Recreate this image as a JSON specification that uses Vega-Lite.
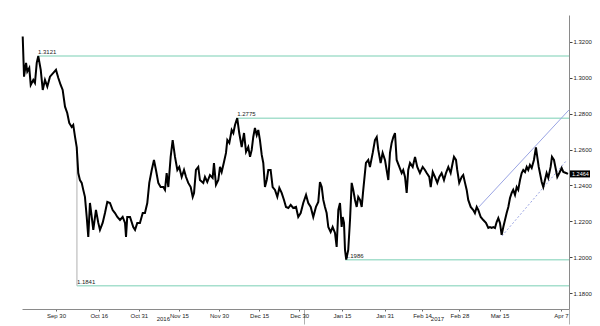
{
  "$schema": "https://vega.github.io/schema/vega-lite/v6.json",
  "width": 547,
  "height": 294,
  "autosize": {"type": "none"},
  "padding": {"left": 22, "top": 15, "right": 31, "bottom": 17},
  "background": "white",
  "config": {"view": {"stroke": null}, "font": "Liberation Sans"},
  "datasets": {
    "prices": [
      {"t":"2016-09-17T13:00","p":1.3230},{"t":"2016-09-18T01:00","p":1.3006},{"t":"2016-09-18T19:00","p":1.3083},{"t":"2016-09-19T06:00","p":1.3034},{"t":"2016-09-20T00:00","p":1.3055},{"t":"2016-09-20T13:00","p":1.2960},{"t":"2016-09-21T12:00","p":1.2988},{"t":"2016-09-22T03:00","p":1.2971},{"t":"2016-09-22T19:00","p":1.3083},{"t":"2016-09-23T09:00","p":1.3121},
      {"t":"2016-09-24T07:00","p":1.3044},{"t":"2016-09-25T01:00","p":1.2932},{"t":"2016-09-25T21:00","p":1.2988},{"t":"2016-09-26T18:00","p":1.2951},{"t":"2016-09-27T18:00","p":1.3006},{"t":"2016-09-29T00:00","p":1.3027},{"t":"2016-09-30T00:00","p":1.3044},{"t":"2016-09-30T21:00","p":1.2999},{"t":"2016-10-01T18:00","p":1.2960},{"t":"2016-10-02T12:00","p":1.2932},
      {"t":"2016-10-03T09:00","p":1.2839},{"t":"2016-10-04T05:00","p":1.2804},{"t":"2016-10-04T23:00","p":1.2748},{"t":"2016-10-05T21:00","p":1.2726},{"t":"2016-10-06T11:00","p":1.2737},{"t":"2016-10-07T03:00","p":1.2670},{"t":"2016-10-07T18:00","p":1.2614},{"t":"2016-10-08T08:00","p":1.2469},{"t":"2016-10-08T23:00","p":1.2430},{"t":"2016-10-09T15:00","p":1.2414},
      {"t":"2016-10-10T05:00","p":1.2375},{"t":"2016-10-10T20:00","p":1.2336},{"t":"2016-10-11T12:00","p":1.2224},{"t":"2016-10-12T02:00","p":1.2113},{"t":"2016-10-12T17:00","p":1.2302},{"t":"2016-10-13T09:00","p":1.2224},{"t":"2016-10-13T23:00","p":1.2152},{"t":"2016-10-14T23:00","p":1.2263},{"t":"2016-10-15T20:00","p":1.2191},{"t":"2016-10-16T11:00","p":1.2152},
      {"t":"2016-10-17T11:00","p":1.2191},{"t":"2016-10-18T08:00","p":1.2246},{"t":"2016-10-19T05:00","p":1.2308},{"t":"2016-10-20T05:00","p":1.2302},{"t":"2016-10-21T05:00","p":1.2263},{"t":"2016-10-22T02:00","p":1.2246},{"t":"2016-10-22T23:00","p":1.2224},{"t":"2016-10-23T23:00","p":1.2207},{"t":"2016-10-24T23:00","p":1.2224},{"t":"2016-10-25T20:00","p":1.2191},
      {"t":"2016-10-26T05:00","p":1.2113},{"t":"2016-10-26T16:00","p":1.2224},{"t":"2016-10-27T17:00","p":1.2224},{"t":"2016-10-28T22:00","p":1.2168},{"t":"2016-10-29T14:00","p":1.2152},{"t":"2016-10-30T10:00","p":1.2191},{"t":"2016-10-31T10:00","p":1.2191},{"t":"2016-11-01T11:00","p":1.2246},{"t":"2016-11-02T07:00","p":1.2246},{"t":"2016-11-03T04:00","p":1.2302},
      {"t":"2016-11-03T22:00","p":1.2414},{"t":"2016-11-04T20:00","p":1.2486},{"t":"2016-11-05T16:00","p":1.2542},{"t":"2016-11-06T10:00","p":1.2486},{"t":"2016-11-07T07:00","p":1.2414},{"t":"2016-11-08T04:00","p":1.2391},{"t":"2016-11-09T04:00","p":1.2391},{"t":"2016-11-09T19:00","p":1.2375},{"t":"2016-11-10T10:00","p":1.2469},{"t":"2016-11-11T01:00","p":1.2391},
      {"t":"2016-11-11T22:00","p":1.2559},{"t":"2016-11-12T16:00","p":1.2653},{"t":"2016-11-13T13:00","p":1.2559},{"t":"2016-11-14T10:00","p":1.2486},{"t":"2016-11-15T03:00","p":1.2503},{"t":"2016-11-16T01:00","p":1.2447},{"t":"2016-11-16T22:00","p":1.2486},{"t":"2016-11-17T16:00","p":1.2447},{"t":"2016-11-18T12:00","p":1.2414},{"t":"2016-11-19T10:00","p":1.2391},
      {"t":"2016-11-20T04:00","p":1.2336},{"t":"2016-11-20T16:00","p":1.2358},{"t":"2016-11-21T09:00","p":1.2486},{"t":"2016-11-22T06:00","p":1.2503},{"t":"2016-11-22T21:00","p":1.2430},{"t":"2016-11-24T03:00","p":1.2414},{"t":"2016-11-24T18:00","p":1.2447},{"t":"2016-11-25T15:00","p":1.2419},{"t":"2016-11-26T15:00","p":1.2458},{"t":"2016-11-27T15:00","p":1.2442},
      {"t":"2016-11-28T03:00","p":1.2525},{"t":"2016-11-28T21:00","p":1.2403},{"t":"2016-11-29T18:00","p":1.2430},{"t":"2016-11-30T09:00","p":1.2503},{"t":"2016-12-01T00:00","p":1.2475},{"t":"2016-12-01T21:00","p":1.2531},{"t":"2016-12-02T15:00","p":1.2581},{"t":"2016-12-03T03:00","p":1.2653},{"t":"2016-12-03T21:00","p":1.2637},{"t":"2016-12-04T18:00","p":1.2709},
      {"t":"2016-12-05T09:00","p":1.2692},{"t":"2016-12-06T00:00","p":1.2737},{"t":"2016-12-06T20:00","p":1.2775},{"t":"2016-12-07T14:00","p":1.2692},{"t":"2016-12-08T12:00","p":1.2614},{"t":"2016-12-09T09:00","p":1.2692},{"t":"2016-12-10T03:00","p":1.2587},{"t":"2016-12-10T23:00","p":1.2614},{"t":"2016-12-11T15:00","p":1.2559},{"t":"2016-12-12T06:00","p":1.2598},
      {"t":"2016-12-12T20:00","p":1.2670},{"t":"2016-12-13T11:00","p":1.2720},{"t":"2016-12-14T03:00","p":1.2681},{"t":"2016-12-14T17:00","p":1.2709},{"t":"2016-12-15T08:00","p":1.2653},{"t":"2016-12-16T00:00","p":1.2570},{"t":"2016-12-16T14:00","p":1.2525},{"t":"2016-12-17T05:00","p":1.2391},{"t":"2016-12-17T21:00","p":1.2430},{"t":"2016-12-18T11:00","p":1.2486},
      {"t":"2016-12-19T08:00","p":1.2486},{"t":"2016-12-20T02:00","p":1.2391},{"t":"2016-12-20T23:00","p":1.2375},{"t":"2016-12-21T20:00","p":1.2336},{"t":"2016-12-22T14:00","p":1.2386},{"t":"2016-12-23T11:00","p":1.2358},{"t":"2016-12-24T08:00","p":1.2319},{"t":"2016-12-25T02:00","p":1.2280},{"t":"2016-12-25T23:00","p":1.2274},{"t":"2016-12-26T20:00","p":1.2291},
      {"t":"2016-12-27T19:00","p":1.2274},{"t":"2016-12-28T20:00","p":1.2280},{"t":"2016-12-29T16:00","p":1.2224},{"t":"2016-12-30T14:00","p":1.2246},{"t":"2016-12-31T13:00","p":1.2302},{"t":"2017-01-01T14:00","p":1.2347},{"t":"2017-01-02T10:00","p":1.2302},{"t":"2017-01-03T08:00","p":1.2280},{"t":"2017-01-04T07:00","p":1.2224},{"t":"2017-01-05T07:00","p":1.2280},
      {"t":"2017-01-06T04:00","p":1.2308},{"t":"2017-01-06T19:00","p":1.2419},{"t":"2017-01-07T11:00","p":1.2391},{"t":"2017-01-08T01:00","p":1.2319},{"t":"2017-01-08T16:00","p":1.2280},{"t":"2017-01-09T07:00","p":1.2246},{"t":"2017-01-09T22:00","p":1.2168},{"t":"2017-01-10T19:00","p":1.2140},{"t":"2017-01-11T13:00","p":1.2168},{"t":"2017-01-12T10:00","p":1.2135},
      {"t":"2017-01-13T01:00","p":1.2057},{"t":"2017-01-13T16:00","p":1.2263},{"t":"2017-01-14T07:00","p":1.2302},{"t":"2017-01-14T22:00","p":1.2168},{"t":"2017-01-15T07:00","p":1.2224},{"t":"2017-01-15T19:00","p":1.2191},{"t":"2017-01-16T04:00","p":1.2040},{"t":"2017-01-16T15:00","p":1.1986},{"t":"2017-01-17T09:00","p":1.2040},{"t":"2017-01-18T01:00","p":1.2207},
      {"t":"2017-01-18T16:00","p":1.2414},{"t":"2017-01-19T06:00","p":1.2375},{"t":"2017-01-19T22:00","p":1.2319},{"t":"2017-01-20T13:00","p":1.2280},{"t":"2017-01-21T03:00","p":1.2336},{"t":"2017-01-21T19:00","p":1.2319},{"t":"2017-01-22T10:00","p":1.2280},{"t":"2017-01-23T00:00","p":1.2375},{"t":"2017-01-24T00:00","p":1.2525},{"t":"2017-01-24T21:00","p":1.2542},
      {"t":"2017-01-25T12:00","p":1.2503},{"t":"2017-01-26T13:00","p":1.2581},{"t":"2017-01-27T09:00","p":1.2653},{"t":"2017-01-28T01:00","p":1.2670},{"t":"2017-01-28T15:00","p":1.2598},{"t":"2017-01-29T12:00","p":1.2525},{"t":"2017-01-30T06:00","p":1.2581},{"t":"2017-01-31T03:00","p":1.2542},{"t":"2017-01-31T18:00","p":1.2486},{"t":"2017-02-01T09:00","p":1.2430},
      {"t":"2017-02-02T00:00","p":1.2581},{"t":"2017-02-02T15:00","p":1.2637},{"t":"2017-02-03T06:00","p":1.2670},{"t":"2017-02-03T21:00","p":1.2692},{"t":"2017-02-04T12:00","p":1.2542},{"t":"2017-02-05T12:00","p":1.2503},{"t":"2017-02-06T09:00","p":1.2469},{"t":"2017-02-06T23:00","p":1.2486},{"t":"2017-02-07T15:00","p":1.2447},{"t":"2017-02-08T06:00","p":1.2358},
      {"t":"2017-02-08T20:00","p":1.2486},{"t":"2017-02-09T12:00","p":1.2525},{"t":"2017-02-10T12:00","p":1.2503},{"t":"2017-02-11T09:00","p":1.2559},{"t":"2017-02-12T05:00","p":1.2503},{"t":"2017-02-13T05:00","p":1.2469},{"t":"2017-02-14T06:00","p":1.2503},{"t":"2017-02-15T02:00","p":1.2486},{"t":"2017-02-15T18:00","p":1.2469},{"t":"2017-02-16T17:00","p":1.2447},
      {"t":"2017-02-17T06:00","p":1.2391},{"t":"2017-02-18T00:00","p":1.2475},{"t":"2017-02-18T20:00","p":1.2447},{"t":"2017-02-19T17:00","p":1.2414},{"t":"2017-02-20T11:00","p":1.2447},{"t":"2017-02-21T08:00","p":1.2469},{"t":"2017-02-22T05:00","p":1.2430},{"t":"2017-02-22T23:00","p":1.2469},{"t":"2017-02-23T20:00","p":1.2503},{"t":"2017-02-24T17:00","p":1.2469},
      {"t":"2017-02-25T11:00","p":1.2525},{"t":"2017-02-25T23:00","p":1.2559},{"t":"2017-02-26T17:00","p":1.2542},{"t":"2017-02-27T04:00","p":1.2486},{"t":"2017-02-27T22:00","p":1.2414},{"t":"2017-02-28T20:00","p":1.2447},{"t":"2017-03-01T10:00","p":1.2458},{"t":"2017-03-02T02:00","p":1.2414},{"t":"2017-03-02T17:00","p":1.2375},{"t":"2017-03-03T07:00","p":1.2319},
      {"t":"2017-03-04T05:00","p":1.2280},{"t":"2017-03-05T04:00","p":1.2263},{"t":"2017-03-05T19:00","p":1.2246},{"t":"2017-03-06T11:00","p":1.2280},{"t":"2017-03-07T01:00","p":1.2263},{"t":"2017-03-07T23:00","p":1.2224},{"t":"2017-03-08T22:00","p":1.2207},{"t":"2017-03-09T22:00","p":1.2191},{"t":"2017-03-10T19:00","p":1.2163},{"t":"2017-03-11T10:00","p":1.2168},
      {"t":"2017-03-12T01:00","p":1.2163},{"t":"2017-03-12T16:00","p":1.2168},{"t":"2017-03-13T07:00","p":1.2163},{"t":"2017-03-13T22:00","p":1.2196},{"t":"2017-03-14T13:00","p":1.2218},{"t":"2017-03-15T04:00","p":1.2191},{"t":"2017-03-15T19:00","p":1.2124},{"t":"2017-03-16T10:00","p":1.2168},{"t":"2017-03-17T01:00","p":1.2207},{"t":"2017-03-17T16:00","p":1.2246},
      {"t":"2017-03-18T07:00","p":1.2280},{"t":"2017-03-18T22:00","p":1.2330},{"t":"2017-03-19T13:00","p":1.2358},{"t":"2017-03-20T03:00","p":1.2375},{"t":"2017-03-20T19:00","p":1.2347},{"t":"2017-03-21T10:00","p":1.2391},{"t":"2017-03-22T00:00","p":1.2375},{"t":"2017-03-22T16:00","p":1.2430},{"t":"2017-03-23T07:00","p":1.2469},{"t":"2017-03-23T21:00","p":1.2486},
      {"t":"2017-03-24T13:00","p":1.2475},{"t":"2017-03-25T04:00","p":1.2503},{"t":"2017-03-25T18:00","p":1.2486},{"t":"2017-03-26T09:00","p":1.2514},{"t":"2017-03-27T01:00","p":1.2497},{"t":"2017-03-27T21:00","p":1.2542},{"t":"2017-03-28T15:00","p":1.2612},{"t":"2017-03-29T03:00","p":1.2559},{"t":"2017-03-29T16:00","p":1.2503},{"t":"2017-03-30T03:00","p":1.2469},
      {"t":"2017-03-30T19:00","p":1.2419},{"t":"2017-03-31T09:00","p":1.2391},{"t":"2017-04-01T00:00","p":1.2430},{"t":"2017-04-01T15:00","p":1.2469},{"t":"2017-04-02T06:00","p":1.2442},{"t":"2017-04-03T03:00","p":1.2503},{"t":"2017-04-03T15:00","p":1.2559},{"t":"2017-04-04T09:00","p":1.2542},{"t":"2017-04-05T03:00","p":1.2486},{"t":"2017-04-05T15:00","p":1.2447},
      {"t":"2017-04-06T09:00","p":1.2469},{"t":"2017-04-07T06:00","p":1.2497},{"t":"2017-04-07T21:00","p":1.2475},{"t":"2017-04-08T21:00","p":1.2469},{"t":"2017-04-09T15:00","p":1.2464}
    ],
    "levels": [
      {"start":"2016-09-23T06:00","level":1.3121,"label":"1.3121"},
      {"start":"2016-12-06T20:00","level":1.2775,"label":"1.2775"},
      {"start":"2017-01-16T06:00","level":1.1986,"label":"1.1986"},
      {"start":"2016-10-07T20:00","level":1.1841,"label":"1.1841"}
    ],
    "spike": [
      {"t":"2016-10-07T20:00","high":1.2614,"low":1.1841}
    ],
    "trends": [
      {"kind":"upper","t1":"2017-03-07T07:00","p1":1.2280,"t2":"2017-04-10T00:00","p2":1.2821},
      {"kind":"lower","t1":"2017-03-15T22:00","p1":1.2118,"t2":"2017-04-09T06:00","p2":1.2542}
    ],
    "last": [
      {"t":"2017-04-10T00:00","p":1.2464,"label":"1.2464"}
    ]
  },
  "resolve": {"axis": {"x": "independent", "y": "independent"}},
  "layer": [
    {
      "data": {"name": "levels"},
      "mark": {"type": "rule", "color": "#a6dfcd", "strokeWidth": 1.5},
      "encoding": {
        "x": {"field": "start", "type": "temporal", "axis": null},
        "x2": {"datum": {"year": 2017, "month": 4, "date": 10}},
        "y": {"field": "level", "type": "quantitative", "axis": null}
      }
    },
    {
      "data": {"name": "levels"},
      "mark": {"type": "text", "align": "left", "baseline": "bottom", "dx": 0, "dy": -1, "fontSize": 6, "color": "#222"},
      "encoding": {
        "x": {"field": "start", "type": "temporal",
          "axis": {"orient": "bottom", "values": [{"year": 2017, "month": 1, "date": 1}, {"year": 2017, "month": 4, "date": 10}], "labels": false, "domain": false, "grid": false, "ticks": true, "tickSize": 15, "tickColor": "#b0b0b0", "title": null}},
        "y": {"field": "level", "type": "quantitative", "axis": null},
        "text": {"field": "label"}
      }
    },
    {
      "data": {"name": "spike"},
      "mark": {"type": "rule", "color": "#bdbdbd", "strokeWidth": 1.2},
      "encoding": {
        "x": {"field": "t", "type": "temporal",
          "axis": {"orient": "bottom", "values": [{"year": 2016, "month": 11, "date": 9}, {"year": 2017, "month": 2, "date": 19, "hours": 14}], "format": "%Y", "domain": false, "ticks": false, "grid": false, "labelFontSize": 6, "labelColor": "#222", "labelPadding": 0, "offset": 6, "labelFlush": false, "title": null}},
        "y": {"field": "high", "type": "quantitative", "axis": null},
        "y2": {"field": "low"}
      }
    },
    {
      "data": {"name": "trends"},
      "transform": [{"filter": "datum.kind == 'upper'"}],
      "mark": {"type": "rule", "color": "#9aa4e3", "strokeWidth": 1},
      "encoding": {
        "x": {"field": "t1", "type": "temporal", "axis": null},
        "x2": {"field": "t2"},
        "y": {"field": "p1", "type": "quantitative", "axis": null},
        "y2": {"field": "p2"}
      }
    },
    {
      "data": {"name": "trends"},
      "transform": [{"filter": "datum.kind == 'lower'"}],
      "mark": {"type": "rule", "color": "#9aa4e3", "strokeWidth": 1, "strokeDash": [2, 2]},
      "encoding": {
        "x": {"field": "t1", "type": "temporal", "axis": null},
        "x2": {"field": "t2"},
        "y": {"field": "p1", "type": "quantitative", "axis": null},
        "y2": {"field": "p2"}
      }
    },
    {
      "data": {"name": "prices"},
      "mark": {"type": "line", "color": "#000000", "strokeWidth": 2, "strokeJoin": "miter"},
      "encoding": {
        "x": {"field": "t", "type": "temporal",
          "scale": {"domain": [{"year": 2016, "month": 9, "date": 17, "hours": 6, "minutes": 40}, {"year": 2017, "month": 4, "date": 10}], "nice": false},
          "axis": {"orient": "bottom", "values": [
            {"year": 2016, "month": 9, "date": 30}, {"year": 2016, "month": 10, "date": 16}, {"year": 2016, "month": 10, "date": 31},
            {"year": 2016, "month": 11, "date": 15}, {"year": 2016, "month": 11, "date": 30}, {"year": 2016, "month": 12, "date": 15},
            {"year": 2016, "month": 12, "date": 30}, {"year": 2017, "month": 1, "date": 15}, {"year": 2017, "month": 1, "date": 31},
            {"year": 2017, "month": 2, "date": 14}, {"year": 2017, "month": 2, "date": 28}, {"year": 2017, "month": 3, "date": 15},
            {"year": 2017, "month": 4, "date": 7}],
            "format": "%b %-d", "labelFontSize": 6, "labelColor": "#222", "tickSize": 2, "tickColor": "#666", "domainColor": "#8a8a8a", "labelPadding": 1, "grid": false, "title": null, "labelFlush": false, "labelOverlap": false}},
        "y": {"field": "p", "type": "quantitative",
          "scale": {"domain": [1.1711, 1.335], "nice": false, "zero": false},
          "axis": {"orient": "right", "values": [1.18, 1.2, 1.22, 1.24, 1.26, 1.28, 1.3, 1.32], "format": ".4f", "labelFontSize": 6, "labelColor": "#222", "tickSize": 3, "tickColor": "#444", "domainColor": "#8a8a8a", "labelPadding": 1, "grid": false, "title": null, "labelFlush": false, "labelOverlap": false}}
      }
    },
    {
      "data": {"name": "last"},
      "mark": {"type": "point", "shape": "M0.1,-0.35H2.1V0.35H0.1Z", "size": 400, "filled": true, "color": "#000000", "opacity": 1, "strokeWidth": 0},
      "encoding": {
        "x": {"field": "t", "type": "temporal", "axis": null},
        "y": {"field": "p", "type": "quantitative", "axis": null}
      }
    },
    {
      "data": {"name": "last"},
      "mark": {"type": "text", "align": "left", "baseline": "middle", "dx": 3, "fontSize": 5.5, "color": "#ffffff"},
      "encoding": {
        "x": {"field": "t", "type": "temporal", "axis": null},
        "y": {"field": "p", "type": "quantitative", "axis": null},
        "text": {"field": "label"}
      }
    }
  ]
}
